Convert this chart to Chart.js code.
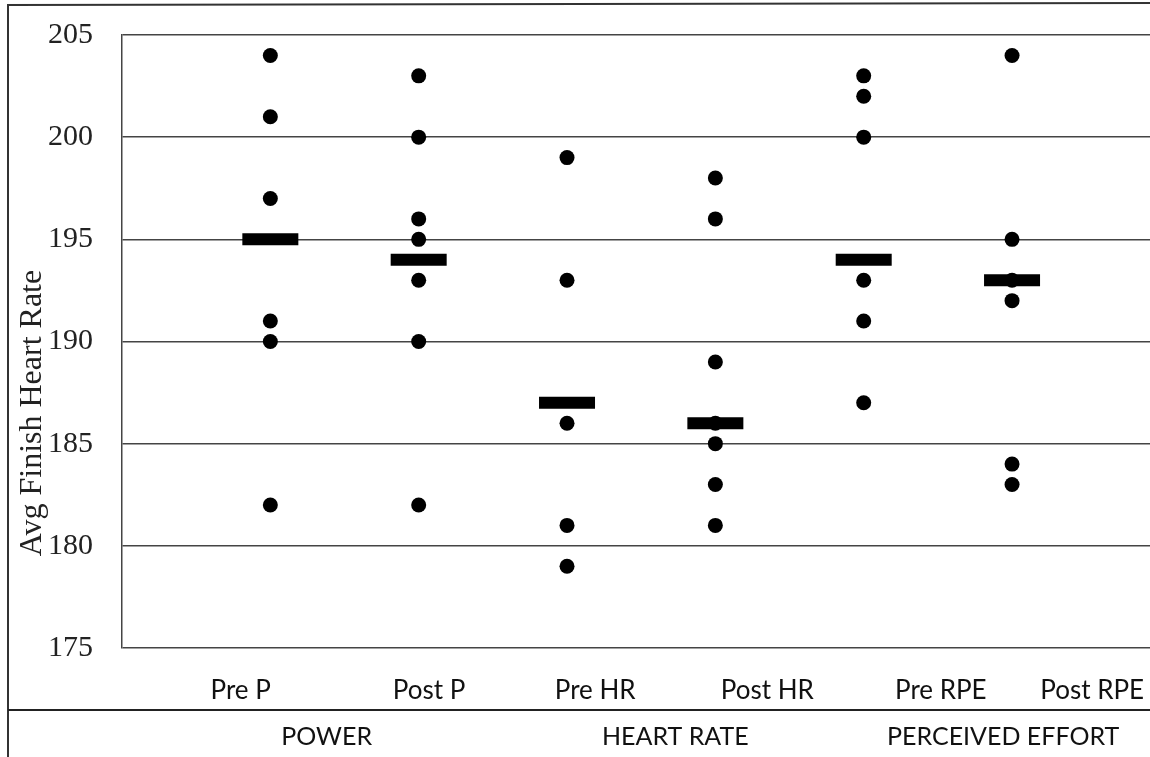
<!DOCTYPE html>
<html><head><meta charset="utf-8">
<script src="https://cdn.jsdelivr.net/npm/chart.js@4.4.1/dist/chart.umd.min.js"></script>
<style>html,body{margin:0;padding:0;background:#fff;overflow:hidden}#c{display:block}</style>
</head><body>
<canvas id="c" width="1150" height="757"></canvas>
<script>
// ---- data ----
const categories = ['Pre P', 'Post P', 'Pre HR', 'Post HR', 'Pre RPE', 'Post RPE'];
const groups = ['POWER', 'HEART RATE', 'PERCEIVED EFFORT'];
const prePower = [204, 201, 197, 191, 190, 182];
const postPower = [203, 200, 196, 195, 193, 190, 182];
const preHR = [199, 193, 186, 181, 179];
const postHR = [198, 196, 189, 186, 185, 183, 181];
const preRPE = [203, 202, 200, 193, 191, 187];
const postRPE = [204, 195, 193, 192, 184, 183];
const means = [195, 194, 187, 186, 194, 193];
const yTicks = [175, 180, 185, 190, 195, 200, 205];
const yTitle = 'Avg Finish Heart Rate';

// ---- layout (x-scale units) ----
const labelSlots = [0.8, 2.07, 3.19, 4.35, 5.52, 6.54];
const groupSlots = [1.38, 3.73, 5.94];

const series = [prePower, postPower, preHR, postHR, preRPE, postRPE];
const dotData = [];
series.forEach((arr, i) => arr.forEach(v => dotData.push({x: i + 1, y: v})));
const meanData = means.map((v, i) => ({x: i + 1, y: v}));

const extras = {
  id: 'extras',
  afterDraw(chart) {
    const ctx = chart.ctx, xs = chart.scales.x, ys = chart.scales.y;
    ctx.save();
    // outer frame
    ctx.strokeStyle = '#333';
    ctx.lineWidth = 2;
    ctx.beginPath();
    ctx.moveTo(8, 757); ctx.lineTo(8, 5); ctx.lineTo(1150, 3);
    ctx.stroke();
    // group separator line
    ctx.lineWidth = 2;
    ctx.strokeStyle = '#222';
    ctx.beginPath();
    ctx.moveTo(8, 710); ctx.lineTo(1150, 710);
    ctx.stroke();
    // group labels
    ctx.fillStyle = '#111';
    ctx.font = '25px Lato, "Open Sans", sans-serif';
    ctx.textAlign = 'center';
    ctx.textBaseline = 'middle';
    groups.forEach((g, i) => ctx.fillText(g, xs.getPixelForValue(groupSlots[i]), 737));
    // y title
    ctx.translate(33, ys.getPixelForValue(186.5));
    ctx.rotate(-Math.PI / 2);
    ctx.font = '32px "Liberation Serif", "DejaVu Serif", serif';
    ctx.fillStyle = '#222';
    ctx.fillText(yTitle, 0, 0);
    ctx.restore();
  }
};

new Chart(document.getElementById('c'), {
  type: 'scatter',
  data: {
    datasets: [
      {
        label: 'Values',
        data: dotData,
        backgroundColor: '#000',
        borderWidth: 0,
        pointRadius: 7.5,
        pointHoverRadius: 7.5,
        order: 1
      },
      {
        label: 'Mean',
        data: meanData,
        pointStyle: 'line',
        borderColor: '#000',
        backgroundColor: '#000',
        borderWidth: 12,
        pointRadius: 28,
        pointHoverRadius: 28,
        order: 2
      }
    ]
  },
  options: {
    responsive: false,
    animation: false,
    devicePixelRatio: 1,
    layout: {autoPadding: false, padding: {top: 35, left: 0, right: 0, bottom: 0}},
    plugins: {legend: {display: false}, tooltip: {enabled: false}, title: {display: false}},
    scales: {
      x: {
        type: 'linear',
        min: 0,
        max: 6.93,
        afterFit: s => { s.height = 109; s.paddingLeft = 0; s.paddingRight = 0; },
        afterBuildTicks: s => { s.ticks = labelSlots.map(v => ({value: v})); },
        grid: {display: false, drawTicks: false},
        border: {display: false},
        ticks: {
          autoSkip: false,
          maxRotation: 0,
          padding: 27,
          color: '#111',
          font: {family: 'Lato, "Open Sans", sans-serif', size: 26},
          callback: (v, i) => categories[i]
        }
      },
      y: {
        min: 175,
        max: 205,
        afterFit: s => { s.width = 122; s.paddingTop = 0; s.paddingBottom = 0; },
        afterBuildTicks: s => { s.ticks = yTicks.map(v => ({value: v})); },
        grid: {color: '#444', lineWidth: 1.5, drawTicks: false},
        border: {display: true, color: '#444', width: 1.5},
        ticks: {
          padding: 29,
          color: '#222',
          font: {family: '"Liberation Serif", "DejaVu Serif", serif', size: 30}
        }
      }
    }
  },
  plugins: [extras]
});
</script>
</body></html>
